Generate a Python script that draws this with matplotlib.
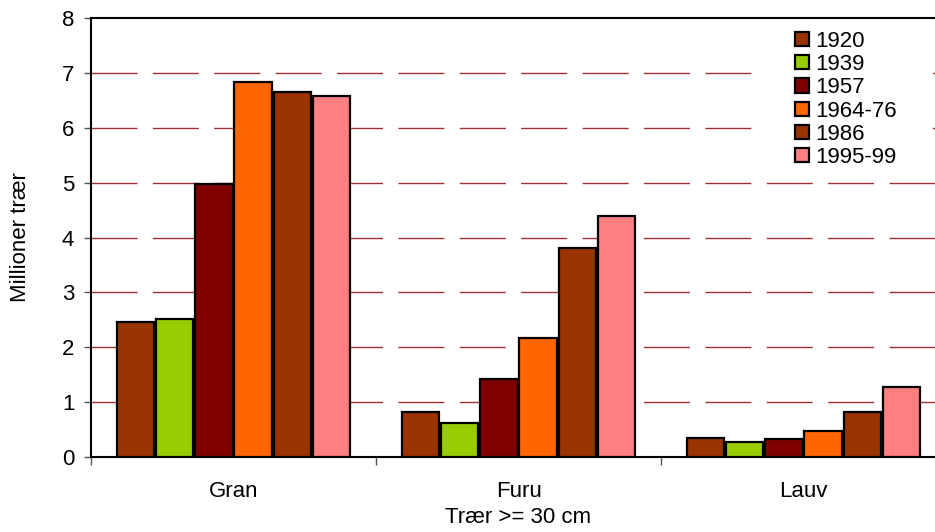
import matplotlib
matplotlib.use("Agg")
import matplotlib.pyplot as plt
from matplotlib.patches import Rectangle
import numpy as np

plt.rcParams['font.family'] = ['Liberation Sans', 'DejaVu Sans']

categories = ["Gran", "Furu", "Lauv"]
series = ["1920", "1939", "1957", "1964-76", "1986", "1995-99"]
values = {
    "1920":    [2.46, 0.82, 0.35],
    "1939":    [2.51, 0.62, 0.27],
    "1957":    [4.97, 1.42, 0.33],
    "1964-76": [6.83, 2.17, 0.47],
    "1986":    [6.65, 3.81, 0.82],
    "1995-99": [6.58, 4.39, 1.28],
}
colors = ["#993300", "#99CC00", "#800000", "#FF6600", "#993300", "#FF8080"]

fig = plt.figure(figsize=(9.35, 5.32), dpi=100)
W, H = 935, 532
ax = fig.add_axes([91 / W, (532 - 457) / H, (946 - 91) / W, (457 - 18) / H])

n = len(series)
bw = 0.137
x = np.arange(len(categories)) + 0.5
for i, (s, c) in enumerate(zip(series, colors)):
    off = (i - (n - 1) / 2) * bw
    ax.bar(x + off, values[s], width=bw * 0.95, color=c, edgecolor="black",
           linewidth=1.6, label=s, zorder=3)

ax.set_xlim(0, 3)
ax.set_ylim(0, 8)
ax.set_yticks(range(0, 9))
ax.tick_params(axis='y', direction='out', length=5, width=1, labelsize=16,
               color='#555555', pad=7)
ax.set_xticks(x)
ax.set_xticklabels(categories)
ax.tick_params(axis='x', which='major', length=0, labelsize=16, pad=17)
ax.set_xticks([0, 1, 2, 3], minor=True)
ax.tick_params(axis='x', which='minor', direction='out', length=6, width=1, color='#555555')

for yv in range(1, 8):
    ax.axhline(yv, color="#A03030", linewidth=1.0, linestyle=(0, (33.1, 11.1)),
               zorder=1, snap=True)

# white legend background covering gridlines
ax.add_patch(Rectangle((758 / W, 1 - 172 / H), (933 - 758) / W, (172 - 22) / H,
                       transform=fig.transFigure, facecolor="white",
                       edgecolor="none", zorder=2))

for sp in ["left", "bottom", "top"]:
    ax.spines[sp].set_linewidth(1.5)
    ax.spines[sp].set_color("black")
ax.spines["right"].set_visible(False)

ax.set_ylabel("Millioner trær", fontsize=16, labelpad=22)
ax.set_xlabel("Trær >= 30 cm", fontsize=16, labelpad=4)

leg = ax.legend(loc="upper left", bbox_to_anchor=((786 - 91) / (946 - 91), 1 - (22 - 18) / 439),
                frameon=False, fontsize=16, handlelength=0.62, handleheight=0.62,
                handletextpad=0.3, labelspacing=0.1, borderaxespad=0)
leg.set_zorder(5)

fig.savefig("out.png", dpi=100)
